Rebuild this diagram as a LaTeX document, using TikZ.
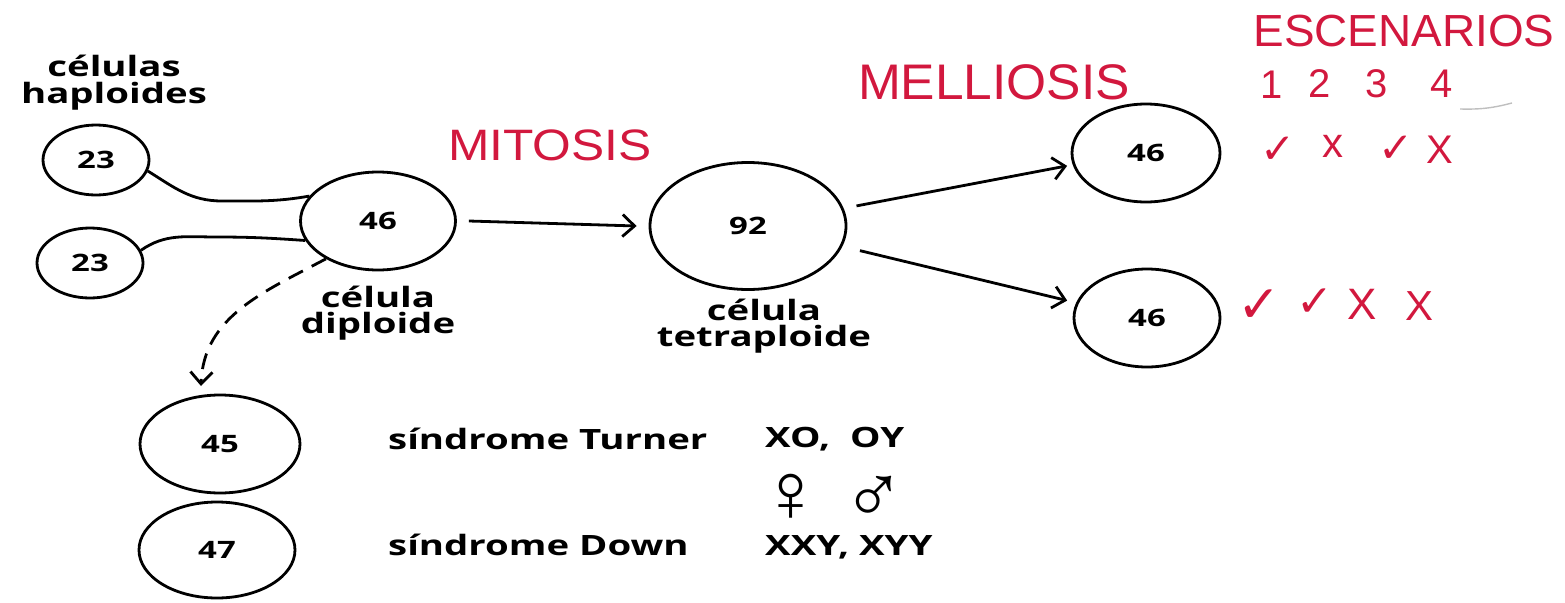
\documentclass[tikz,border=0pt]{standalone}
\usepackage{fontspec}
\setmainfont{Open Sans}
\newfontfamily\handfont{Liberation Sans}
\newfontfamily\symfont{DejaVu Sans}
\usetikzlibrary{shapes.geometric,arrows.meta}
\definecolor{pen}{RGB}{210,24,62}
\newcommand{\wide}[1]{\scalebox{1.37}[1]{#1}}
\tikzset{
  cell/.style={draw,ellipse,line width=2.8pt,inner sep=0pt,font=\bfseries\fontsize{24}{24}\selectfont},
  lbl/.style={font=\bfseries\fontsize{28}{26}\selectfont,inner sep=0pt,align=center},
  lblw/.style={font=\bfseries\fontsize{28}{28}\selectfont,inner sep=0pt,anchor=base west},
  hand/.style={text=pen,font=\handfont\fontsize{#1}{#1}\selectfont,inner sep=0pt},
  tick/.style={text=pen,font=\symfont\fontsize{#1}{#1}\selectfont,inner sep=0pt},
  sex/.style={font=\handfont\fontsize{84}{84}\selectfont,inner sep=0pt},
  link/.style={line width=2.8pt},
  arr/.style={line width=2.8pt,-{Straight Barb[length=12pt,width=22pt,line width=2.8pt]}}
}
\begin{document}
\begin{tikzpicture}[x=1pt,y=-1pt]
\useasboundingbox (0,0) rectangle (1565,602);
% cells
\node[cell,minimum width=106pt,minimum height=70pt] (h1) at (96,160) {\wide{23}};
\node[cell,minimum width=106pt,minimum height=70pt] (h2) at (90,263) {\wide{23}};
\node[cell,minimum width=155pt,minimum height=98pt] (d) at (378,221) {\wide{46}};
\node[cell,minimum width=196pt,minimum height=127pt] (t) at (748,226) {\wide{92}};
\node[cell,minimum width=148pt,minimum height=98pt] (m1) at (1146,153) {\wide{46}};
\node[cell,minimum width=146pt,minimum height=98pt] (m2) at (1147,318) {\wide{46}};
\node[cell,minimum width=160pt,minimum height=98pt] (a45) at (220,444) {\wide{45}};
\node[cell,minimum width=156pt,minimum height=96pt] (a47) at (217,550) {\wide{47}};
% labels
\node[lbl] (lh) at (114,83) {\wide{células}\\[1pt]\wide{haploides}};
\node[lbl] (ld) at (378,313) {\wide{célula}\\\wide{diploide}};
\node[lbl] (lt) at (764,326) {\wide{célula}\\\wide{tetraploide}};
\node[lblw] (st) at (388,449) {\wide{síndrome Turner}};
\node[lblw] (sd) at (388,555) {\wide{síndrome Down}};
\node[lblw] (xo) at (765,447) {\wide{XO,\ \ OY}};
\node[lblw] (xx) at (765,555) {\wide{XXY, XYY}};
\node[sex] (fem) at (791,498) {♀};
\node[sex] (mal) at (874,500) {♂};
% connectors
\draw[link] (h1.-12) to[out=-32,in=180] (222,201) to[out=0,in=190] (d.160);
\draw[link] (h2.14) to[out=35,in=180] (216,237) to[out=0,in=176] (d.195);
\coordinate (dashend) at (201,386);
\draw[arr,dash pattern=on 16pt off 10pt] (d.216) to[out=208,in=88] (dashend);
\draw[arr] ([xshift=12pt]d.east) -- ([xshift=-12pt]t.west);
\draw[arr] ([xshift=14pt]t.12) -- ([xshift=-6pt]m1.190);
\draw[arr] ([xshift=20pt]t.-15) -- ([xshift=-10pt]m2.166);
% red handwriting
\node[hand=44] (mit) at (550,145) {\scalebox{1.13}[1]{MITOSIS}};
\node[hand=50] (mel) at (994,82) {\scalebox{1.03}[1]{MELLIOSIS}};
\node[hand=45] (esc) at (1404,31) {\scalebox{1.02}[1]{ESCENARIOS}};
\node[hand=40] (n1) at (1272,85) {1};
\node[hand=40] (n2) at (1320,84) {2};
\node[hand=40] (n3) at (1377,84) {3};
\node[hand=40] (n4) at (1442,84) {4};
\coordinate (sa) at (1460,109);
\coordinate (sb) at (1512,103);
\draw[gray!50,line width=1.4pt] (sa) to[bend right=8] (sb);
\node[tick=42] (c11) at (1278,150) {✓};
\node[hand=42] (c12) at (1333,146) {x};
\node[tick=42] (c13) at (1396,149) {✓};
\node[hand=40] (c14) at (1440,150) {X};
\node[tick=52] (c21) at (1259,306) {✓};
\node[tick=44] (c22) at (1315,303) {✓};
\node[hand=44] (c23) at (1362,304) {X};
\node[hand=42] (c24) at (1419,306) {X};
\end{tikzpicture}
\end{document}
